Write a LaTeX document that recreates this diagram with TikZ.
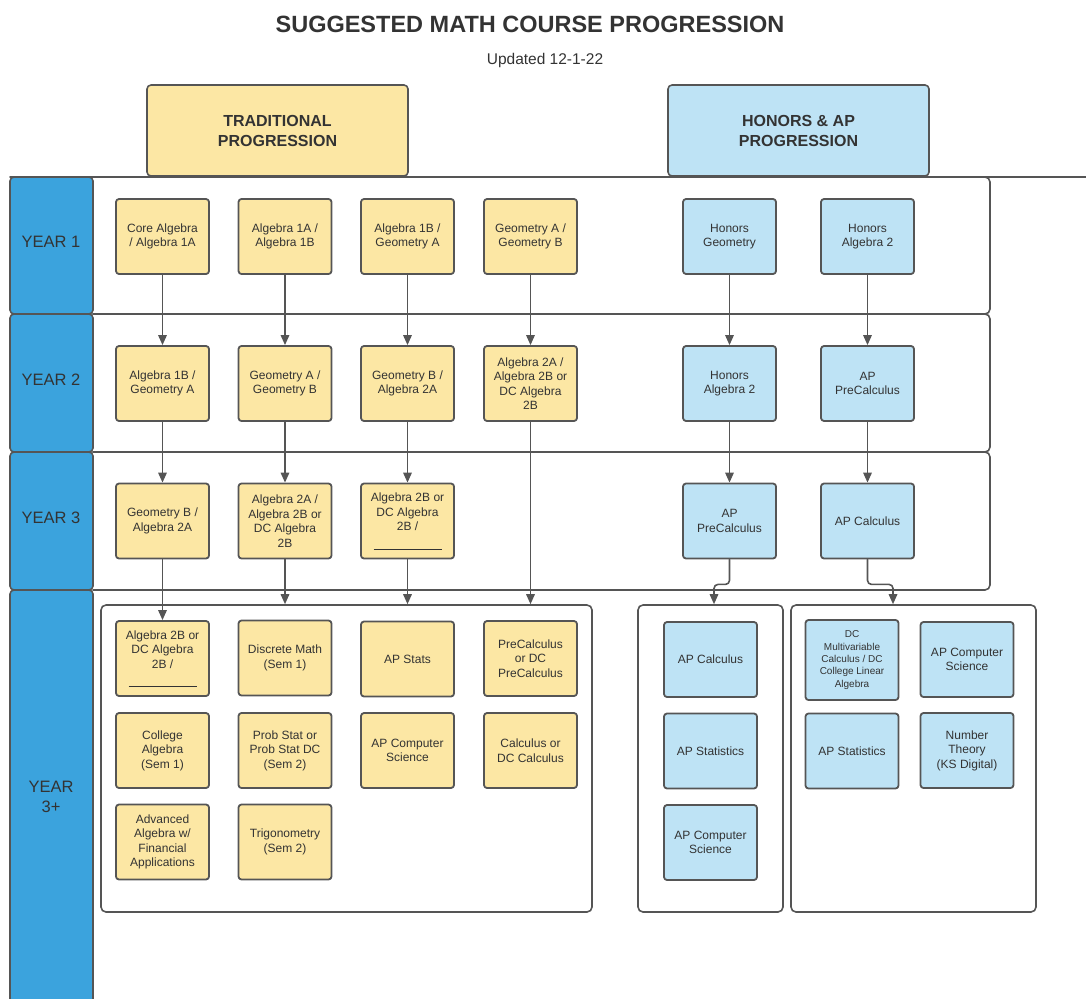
\documentclass[tikz,border=0pt]{standalone}
\usepackage{fontspec}
\setmainfont{Liberation Sans}
\usetikzlibrary{arrows.meta}
\definecolor{tradfill}{HTML}{FCE7A4}
\definecolor{honfill}{HTML}{BEE3F5}
\definecolor{yearblue}{HTML}{3BA3DD}
\definecolor{edgegray}{HTML}{555555}
\definecolor{inkgray}{HTML}{333333}
\begin{document}
\begin{tikzpicture}[x=1pt,y=-1pt,line cap=round,line join=round,
  course/.style={draw=edgegray,line width=1.8pt,rounded corners=3pt,minimum width=93pt,minimum height=75pt,inner sep=0pt,align=center,text=inkgray,font=\fontsize{12}{14.5}\selectfont},
  trad/.style={course,fill=tradfill},
  hon/.style={course,fill=honfill},
  header/.style={draw=edgegray,line width=1.6pt,rounded corners=4pt,minimum width=261pt,minimum height=91pt,align=center,text=inkgray,font=\fontsize{16}{20}\selectfont\bfseries},
  yearseg/.style={draw=edgegray,fill=yearblue,line width=1.6pt,rounded corners=4pt},
  yearlbl/.style={text=inkgray,align=center,font=\fontsize{16.5}{20}\selectfont},
  rowline/.style={draw=edgegray,line width=1.6pt,rounded corners=5pt},
  group/.style={draw=edgegray,line width=1.6pt,rounded corners=5pt,minimum height=307pt,inner sep=0pt},
  link/.style={draw=edgegray,line width=1.6pt,-{Triangle[length=10pt,width=8.5pt]}}]
		\useasboundingbox (0,0) rectangle (1086,998);
		\clip (0,0) rectangle (1086,998);
		\node[font=\fontsize{23.5}{28}\selectfont\bfseries,text=inkgray] (title) at (530,24) {SUGGESTED MATH COURSE PROGRESSION};
		\node[font=\fontsize{15.5}{18}\selectfont,text=inkgray] (updated) at (545,60) {Updated 12-1-22};
		\node[header,fill=tradfill] (tradhead) at (277.5,130.5) {TRADITIONAL\\PROGRESSION};
		\node[header,fill=honfill] (honhead) at (798.5,130.5) {HONORS \& AP\\PROGRESSION};
		% rows
		\draw[rowline] (93,177) -- (990,177) -- (990,314) -- (93,314);
		\draw[rowline] (93,314) -- (990,314) -- (990,452) -- (93,452);
		\draw[rowline] (93,452) -- (990,452) -- (990,590) -- (93,590);
		\draw[rowline] (10,177) -- (1086,177);
		\draw[yearseg] (10,177) rectangle (93,314);
		\draw[yearseg] (10,314) rectangle (93,452);
		\draw[yearseg] (10,452) rectangle (93,590);
		\draw[yearseg] (10,590) rectangle (93,1010);
		\node[yearlbl] (yr1) at (51,242) {YEAR 1};
		\node[yearlbl] (yr2) at (51,380) {YEAR 2};
		\node[yearlbl] (yr3) at (51,518) {YEAR 3};
		\node[yearlbl] (yr4) at (51,797) {YEAR\\3+};
		% traditional
		\node[trad] (t11) at (162.5,236.5) {Core Algebra\\/ Algebra 1A};
		\node[trad] (t12) at (285,236.5) {Algebra 1A /\\Algebra 1B};
		\node[trad] (t13) at (407.5,236.5) {Algebra 1B /\\Geometry A};
		\node[trad] (t14) at (530.5,236.5) {Geometry A /\\Geometry B};
		\node[trad] (t21) at (162.5,383.5) {Algebra 1B /\\Geometry A};
		\node[trad] (t22) at (285,383.5) {Geometry A /\\Geometry B};
		\node[trad] (t23) at (407.5,383.5) {Geometry B /\\Algebra 2A};
		\node[trad] (t24) at (530.5,383.5) {Algebra 2A /\\Algebra 2B or\\DC Algebra\\2B};
		\node[trad] (t31) at (162.5,521) {Geometry B /\\Algebra 2A};
		\node[trad] (t32) at (285,521) {Algebra 2A /\\Algebra 2B or\\DC Algebra\\2B};
		\node[trad] (t33) at (407.5,521) {Algebra 2B or\\DC Algebra\\2B /\\[4pt]\rule{68pt}{0.5pt}};
		% honors
		\node[hon] (h11) at (729.5,236.5) {Honors\\Geometry};
		\node[hon] (h12) at (867.5,236.5) {Honors\\Algebra 2};
		\node[hon] (h21) at (729.5,383.5) {Honors\\Algebra 2};
		\node[hon] (h22) at (867.5,383.5) {AP\\PreCalculus};
		\node[hon] (h31) at (729.5,521) {AP\\PreCalculus};
		\node[hon] (h32) at (867.5,521) {AP Calculus};
		% year 3+ groups
		\node[group,minimum width=491pt] (tradgrp) at (346.5,758.5) {};
		\node[group,minimum width=145pt] (hongrpa) at (710.5,758.5) {};
		\node[group,minimum width=245pt] (hongrpb) at (913.5,758.5) {};
		\node[trad] (s11) at (162.5,658.5) {Algebra 2B or\\DC Algebra\\2B /\\[4pt]\rule{68pt}{0.5pt}};
		\node[trad] (s12) at (285,658) {Discrete Math\\(Sem 1)};
		\node[trad] (s13) at (407.5,659) {AP Stats};
		\node[trad] (s14) at (530.5,658.5) {PreCalculus\\or DC\\PreCalculus};
		\node[trad] (s21) at (162.5,750.5) {College\\Algebra\\(Sem 1)};
		\node[trad] (s22) at (285,750.5) {Prob Stat or\\Prob Stat DC\\(Sem 2)};
		\node[trad] (s23) at (407.5,750.5) {AP Computer\\Science};
		\node[trad] (s24) at (530.5,750.5) {Calculus or\\DC Calculus};
		\node[trad] (s31) at (162.5,842) {Advanced\\Algebra w/\\Financial\\Applications};
		\node[trad] (s32) at (285,842) {Trigonometry\\(Sem 2)};
		\node[hon] (a1) at (710.5,659.5) {AP Calculus};
		\node[hon] (a2) at (710.5,751) {AP Statistics};
		\node[hon] (a3) at (710.5,842.5) {AP Computer\\Science};
		\node[hon,minimum height=80pt,font=\fontsize{10}{12.3}\selectfont] (b11) at (852,660) {DC\\Multivariable\\Calculus / DC\\College Linear\\Algebra};
		\node[hon] (b12) at (967,659.5) {AP Computer\\Science};
		\node[hon] (b21) at (852,751) {AP Statistics};
		\node[hon] (b22) at (967,750.5) {Number\\Theory\\(KS Digital)};
		% arrows
		\draw[link] (t11) -- (t21);
		\draw[link] (t12) -- (t22);
		\draw[link] (t13) -- (t23);
		\draw[link] (t14) -- (t24);
		\draw[link] (t21) -- (t31);
		\draw[link] (t22) -- (t32);
		\draw[link] (t23) -- (t33);
		\draw[link] (t24) -- (t24.south |- tradgrp.north);
		\draw[link] (t31) -- (s11);
		\draw[link] (t32) -- (t32.south |- tradgrp.north);
		\draw[link] (t33) -- (t33.south |- tradgrp.north);
		\draw[link] (h11) -- (h21);
		\draw[link] (h12) -- (h22);
		\draw[link] (h21) -- (h31);
		\draw[link] (h22) -- (h32);
		\draw[link,rounded corners=4pt] (h31.south) -- ++(0,25) -| ([xshift=3.5pt]hongrpa.north);
		\draw[link,rounded corners=4pt] (h32.south) -- ++(0,25) -| ([xshift=-20.5pt]hongrpb.north);
\end{tikzpicture}
\end{document}
